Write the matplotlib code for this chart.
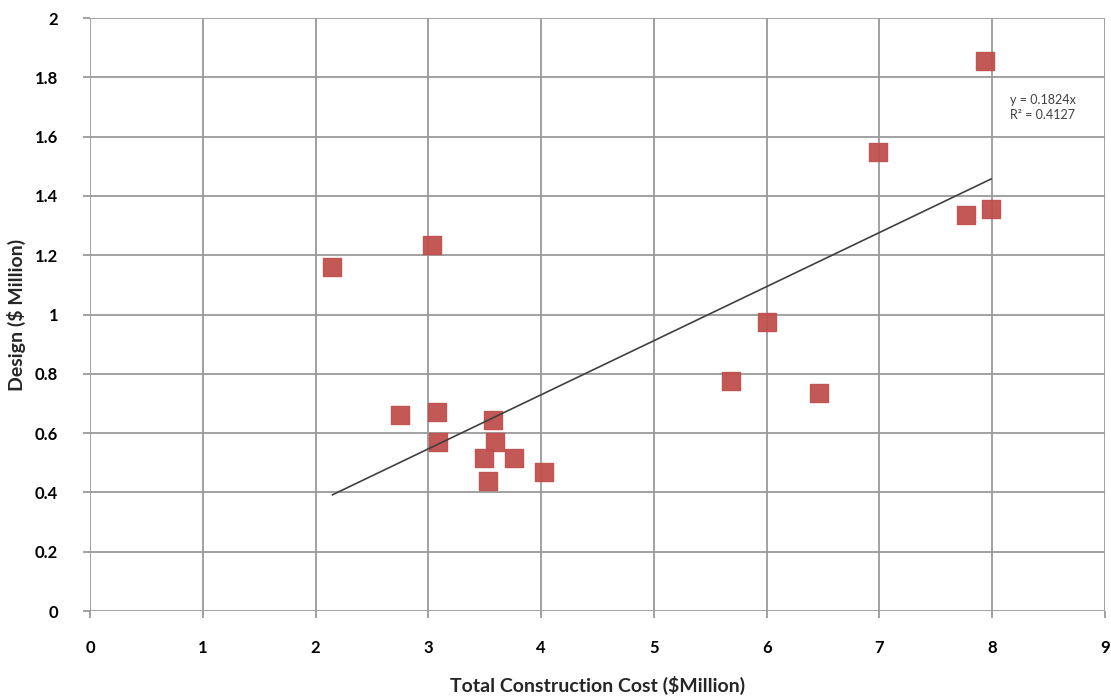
import numpy as np
import matplotlib.pyplot as plt

plt.rcParams['font.family'] = ['Lato', 'DejaVu Sans']

# Project costs ($ million)
construction_cost = [2.15, 3.03, 2.75, 3.08, 3.09, 3.57, 3.59, 3.49, 3.53,
                     3.76, 4.03, 5.68, 6.00, 6.46, 6.99, 7.77, 7.99, 7.94]
design_cost = [1.16, 1.235, 0.66, 0.67, 0.57, 0.645, 0.57, 0.515, 0.44,
               0.515, 0.47, 0.775, 0.975, 0.735, 1.55, 1.335, 1.355, 1.855]

slope = 0.1824
r_squared = 0.4127

x_ticks = list(range(0, 10))
y_ticks = [0, 0.2, 0.4, 0.6, 0.8, 1, 1.2, 1.4, 1.6, 1.8, 2]
y_tick_labels = ['0', '0.2', '0.4', '0.6', '0.8', '1', '1.2', '1.4', '1.6', '1.8', '2']

fig = plt.figure(figsize=(11.11, 6.96), dpi=100)
ax = fig.add_axes([0.081, 0.122, 0.9136, 0.852])

ax.scatter(construction_cost, design_cost, marker='s', s=150,
           color='#C0504D', edgecolor='#C0504D', alpha=0.95, zorder=3)

# Trendline through the origin, drawn over the data range
xs = np.array([min(construction_cost), max(construction_cost)])
ax.plot(xs, slope * xs, color='#404040', linewidth=1.2, zorder=4)

ax.text(8.16, 1.70, f'y = {slope}x\nR² = {r_squared}', fontsize=9,
        color='#404040', linespacing=1.3, va='center')

ax.set_xlim(0, 9)
ax.set_ylim(0, 2)
ax.set_xticks(x_ticks)
ax.set_yticks(y_ticks)
ax.set_yticklabels(y_tick_labels)
ax.grid(True, color='#9a9a9a', linewidth=1.3)
ax.set_axisbelow(True)

for side in ['top', 'right', 'bottom', 'left']:
    ax.spines[side].set_visible(False)
ax.tick_params(axis='both', length=5, width=1.3, color='#9a9a9a',
               labelsize=12, pad=6)
for lbl in ax.get_xticklabels() + ax.get_yticklabels():
    lbl.set_fontweight('bold')
ax.tick_params(axis='x', pad=16)
ax.tick_params(axis='y', pad=18)

ax.set_xlabel('Total Construction Cost ($Million)', fontsize=14,
              fontweight='bold', color='#262626', labelpad=14)
ax.set_ylabel('Design ($ Million)', fontsize=14, fontweight='bold',
              color='#262626', labelpad=6)

fig.savefig('out.png', dpi=100)
